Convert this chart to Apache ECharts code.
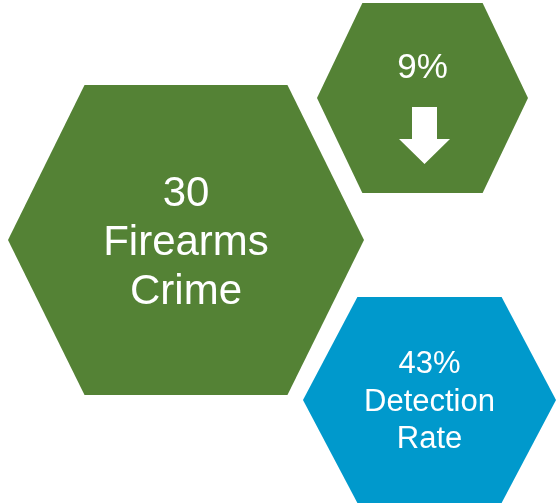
<!DOCTYPE html>
<html>
<head>
<meta charset="utf-8">
<script src="https://cdn.jsdelivr.net/npm/echarts@6/dist/echarts.min.js"></script>
<style>html,body{margin:0;padding:0;background:#fff}#c{width:557px;height:504px}</style>
</head>
<body>
<div id="c"></div>
<script>
// Data
var metrics = ['Firearms Crime', 'Change', 'Detection Rate'];
var values = ['30', '9%', '43%'];
var captions = ['Firearms\nCrime', '', 'Detection\nRate'];
var trend = ['down'];

// Layout (pixel space of hidden axes)
var layout = [
  {x: 186, y: 240, w: 356, h: 310, color: '#548235', font: 42, lh: 49, off: [0, 3]},
  {x: 422.5, y: 98, w: 211, h: 190, color: '#548235', font: 35, lh: 40, off: [0, -30]},
  {x: 429.5, y: 400, w: 253, h: 206, color: '#0099CC', font: 31, lh: 37.5, off: [0, 2]}
];
var hexPath = 'path://M21.5,0 L78.5,0 L100,50 L78.5,100 L21.5,100 L0,50 Z';
var arrowPath = 'path://M13,0 L38,0 L38,32 L51,32 L25.5,57 L0,32 L13,32 Z';

var hexData = metrics.map(function (m, i) {
  var L = layout[i];
  var txt = captions[i] ? values[i] + '\n' + captions[i] : values[i];
  return {
    name: m,
    value: [L.x, L.y],
    symbolSize: [L.w, L.h],
    itemStyle: {color: L.color, opacity: 1},
    label: {
      show: true, position: 'inside', formatter: txt,
      fontSize: L.font, lineHeight: L.lh, offset: L.off,
      color: '#fff', opacity: 1, fontFamily: 'Liberation Sans, Arial, sans-serif'
    }
  };
});

var chart = echarts.init(document.getElementById('c'));
chart.setOption({
  animation: false,
  grid: {left: 0, right: 0, top: 0, bottom: 0},
  xAxis: {type: 'value', min: 0, max: 557, show: false},
  yAxis: {type: 'value', min: 0, max: 504, inverse: true, show: false},
  series: [
    {type: 'scatter', symbol: hexPath, data: hexData, silent: true,
     itemStyle: {opacity: 1}},
    {type: 'scatter', symbol: arrowPath, symbolSize: [51, 57], silent: true,
     itemStyle: {color: '#fff', opacity: 1},
     data: trend.map(function () { return [424.5, 135.5]; })}
  ]
});
</script>
</body>
</html>
